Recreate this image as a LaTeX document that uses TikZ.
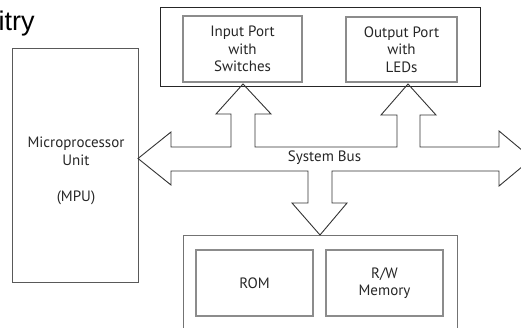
\documentclass[tikz,border=0pt]{standalone}
\usepackage{fontspec}
\setmainfont{PT Sans}
\newfontfamily\titlefont{Liberation Sans}
\begin{document}
\begin{tikzpicture}[x=1pt,y=-1pt,
  outerbox/.style={draw=black!85, line width=0.9pt, inner sep=0pt},
  mpubox/.style={draw=black!65, line width=0.9pt, inner sep=0pt},
  innerbox/.style={draw=black!45, line width=1.2pt, inner sep=0pt, align=center,
     font=\fontsize{15}{17.5}\selectfont, text=black!85},
  lbl/.style={inner sep=0pt, align=center, font=\fontsize{15}{18}\selectfont, text=black!85},
  bus/.style={draw=black!80, line width=0.9pt, line join=miter}]
\useasboundingbox (0,0) rectangle (521,328);
\clip (0,0) rectangle (521,328);
% title fragment
\node[anchor=base west, inner sep=0pt, font=\titlefont\fontsize{27}{30}\selectfont] (title) at (-1.5,31) {itry};
% boxes
\node[outerbox, minimum width=320, minimum height=79] (top) at (320,46.5) {};
\node[innerbox, minimum width=119, minimum height=66] (inp) at (242.5,49) {Input Port\\with\\Switches};
\node[innerbox, minimum width=111, minimum height=65] (outp) at (401.5,49.5) {Output Port\\with\\LEDs};
\node[mpubox, minimum width=126, minimum height=234] (mpu) at (75,165) {};
\node[lbl] (mputext) at (76,170.5) {Microprocessor\\Unit\\[18pt](MPU)};
\draw[draw=black!55, line width=0.9pt] (183,335) coordinate (memL) -- (183,235) -- (457,235) -- (457,335) coordinate (memR);
\node[innerbox, minimum width=117, minimum height=66] (rom) at (254.5,283) {ROM};
\node[innerbox, minimum width=117, minimum height=66] (rw) at (384.5,283) {R/W\\Memory};
% system bus
\draw[bus] (138,158.5) -- (171,132) -- (171,147) -- (231,147) -- (231,114) -- (216,114)
  -- (243,84) -- (271,114) -- (255,114) -- (255,147) -- (397,147) -- (397,115) -- (381,115)
  -- (408,84) -- (436,115) -- (420,115) -- (420,147) -- (499,147) -- (499,131) -- (532,158.5)
  -- (499,186) -- (499,171) -- (332,171) -- (332,203) -- (347,203) -- (320,235) -- (292,203)
  -- (308,203) -- (308,171) -- (171,171) -- (171,185) -- cycle;
\node[lbl] (busl) at (324.5,157.5) {System Bus};
\end{tikzpicture}
\end{document}
